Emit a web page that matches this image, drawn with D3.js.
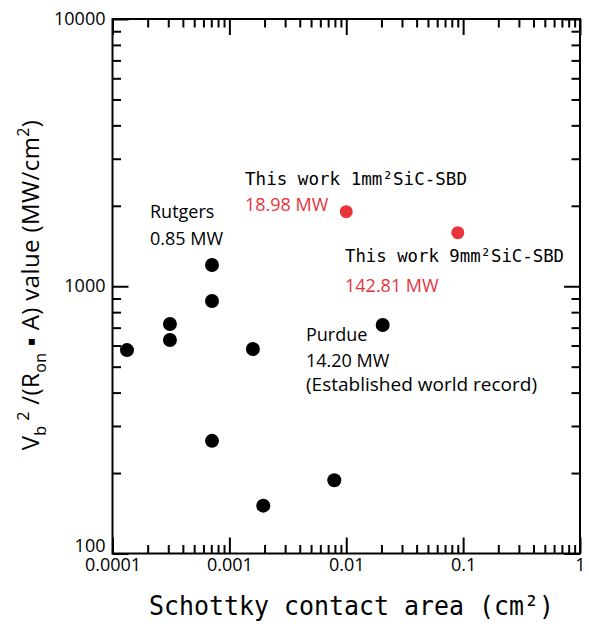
<!DOCTYPE html>
<html>
<head>
<meta charset="utf-8">
<script src="https://cdn.jsdelivr.net/npm/d3@7"></script>
<style>
  html, body { margin: 0; padding: 0; background: #fff; }
  svg { display: block; }
</style>
</head>
<body>
<svg id="chart" width="589" height="626"></svg>
<script>
// ---- data ----
const refAreas  = [0.000133, 0.00031, 0.00031, 0.00071, 0.00071, 0.00071, 0.00159, 0.00195, 0.0079, 0.0205];
const refValues = [577, 722, 629, 1201, 881, 264, 582, 151, 188, 716];
const workAreas  = [0.01, 0.09];
const workValues = [1901, 1586];
const xMajorTicks = [0.0001, 0.001, 0.01, 0.1, 1];
const xTickLabels = ["0.0001", "0.001", "0.01", "0.1", "1"];
const yMajorTicks = [100, 1000, 10000];
const yTickLabels = ["100", "1000", "10000"];

// ---- layout ----
const W = 589, H = 626;
const m = { left: 112.5, right: 9, top: 19, bottom: 72.5 };
const iw = W - m.left - m.right, ih = H - m.top - m.bottom;
const red = "#e8343c";

const svg = d3.select("#chart");
const g = svg.append("g").attr("transform", `translate(${m.left},${m.top})`);

const x = d3.scaleLog().domain([0.0001, 1]).range([0, iw]);
const y = d3.scaleLog().domain([100, 10000]).range([ih, 0]);

const xMinor = x.ticks().filter(v => !xMajorTicks.some(t => Math.abs(t - v) / t < 1e-6));
const yMinor = y.ticks().filter(v => !yMajorTicks.some(t => Math.abs(t - v) / t < 1e-6));

const MAJ = 16, MIN = 8.5;
function styleAxis(sel) {
  sel.select(".domain").remove();
  sel.selectAll(".tick line").attr("stroke", "#000").attr("stroke-width", 2);
}

// bottom
g.append("g").attr("transform", `translate(0,${ih})`)
  .call(d3.axisBottom(x).tickValues(xMajorTicks).tickSizeInner(-MAJ).tickSizeOuter(0)
        .tickFormat((d, i) => xTickLabels[i]))
  .call(styleAxis)
  .call(s => s.selectAll("text").attr("y", 17).attr("dy", "0")
        .attr("font-family", "Open Sans, sans-serif").attr("font-size", 18).attr("fill", "#000"));
g.append("g").attr("transform", `translate(0,${ih})`)
  .call(d3.axisBottom(x).tickValues(xMinor).tickSizeInner(-MIN).tickSizeOuter(0).tickFormat(""))
  .call(styleAxis);
// top
g.append("g")
  .call(d3.axisTop(x).tickValues(xMajorTicks).tickSizeInner(-MAJ).tickSizeOuter(0).tickFormat(""))
  .call(styleAxis);
g.append("g")
  .call(d3.axisTop(x).tickValues(xMinor).tickSizeInner(-MIN).tickSizeOuter(0).tickFormat(""))
  .call(styleAxis);
// left
g.append("g")
  .call(d3.axisLeft(y).tickValues(yMajorTicks).tickSizeInner(-MAJ).tickSizeOuter(0).tickPadding(7)
        .tickFormat((d, i) => yTickLabels[i]))
  .call(styleAxis)
  .call(s => s.selectAll("text").attr("dy", "0.3em")
        .attr("font-family", "Open Sans, sans-serif").attr("font-size", 18).attr("fill", "#000"))
  .call(s => s.selectAll("text").filter(d => d === 100).attr("y", -7));
g.append("g")
  .call(d3.axisLeft(y).tickValues(yMinor).tickSizeInner(-MIN).tickSizeOuter(0).tickFormat(""))
  .call(styleAxis);
// right
g.append("g").attr("transform", `translate(${iw},0)`)
  .call(d3.axisRight(y).tickValues(yMajorTicks).tickSizeInner(-MAJ).tickSizeOuter(0).tickFormat(""))
  .call(styleAxis);
g.append("g").attr("transform", `translate(${iw},0)`)
  .call(d3.axisRight(y).tickValues(yMinor).tickSizeInner(-MIN).tickSizeOuter(0).tickFormat(""))
  .call(styleAxis);

// frame
g.append("rect").attr("x", 0).attr("y", 0).attr("width", iw).attr("height", ih)
  .attr("fill", "none").attr("stroke", "#000").attr("stroke-width", 2);

// points
g.selectAll("circle.ref").data(refAreas).join("circle").attr("class", "ref")
  .attr("cx", d => x(d)).attr("cy", (d, i) => y(refValues[i])).attr("r", 7).attr("fill", "#000");
g.selectAll("circle.work").data(workAreas).join("circle").attr("class", "work")
  .attr("cx", d => x(d)).attr("cy", (d, i) => y(workValues[i])).attr("r", 6.5).attr("fill", red);

// annotations
const sans = "Open Sans, sans-serif";
const mono = "DejaVu Sans Mono, monospace";
function label(txt, px, py, opts = {}) {
  const t = svg.append("text").attr("x", px).attr("y", py)
    .attr("font-family", opts.font || sans).attr("font-size", opts.size || 18)
    .attr("fill", opts.color || "#000").text(txt);
  if (opts.len) t.attr("textLength", opts.len).attr("lengthAdjust", "spacingAndGlyphs");
  return t;
}
label("This work 1mm²SiC-SBD", 245, 185, { font: mono, size: 18.5, len: 222 });
label("18.98 MW", 245, 211, { color: red });
label("This work 9mm²SiC-SBD", 345, 262, { font: mono, size: 18.5, len: 219 });
label("142.81 MW", 345, 292, { color: red });
label("Rutgers", 150, 218);
label("0.85 MW", 150, 245);
label("Purdue", 306, 341);
label("14.20 MW", 306, 367);
label("(Established world record)", 306, 391, { len: 231 });

// x axis title
label("Schottky contact area (cm²)", 149, 615, { font: mono, size: 26, len: 405 });

// y axis title
const yt = svg.append("text")
  .attr("transform", "translate(39,285) rotate(-90)")
  .attr("text-anchor", "middle")
  .attr("font-family", sans).attr("font-size", 24).attr("letter-spacing", 0.4).attr("fill", "#000");
yt.append("tspan").text("V");
yt.append("tspan").attr("font-size", 16).attr("dy", 7).text("b");
yt.append("tspan").attr("font-size", 16).attr("dy", -17).text(" 2");
yt.append("tspan").attr("dy", 10).text(" /(R");
yt.append("tspan").attr("font-size", 16).attr("dy", 7).text("on");
yt.append("tspan").attr("dy", -7).text("  ▪  A) value  (MW/cm");
yt.append("tspan").attr("font-size", 16).attr("dy", -10).text("2");
yt.append("tspan").attr("dy", 10).text(")");
</script>
</body>
</html>
